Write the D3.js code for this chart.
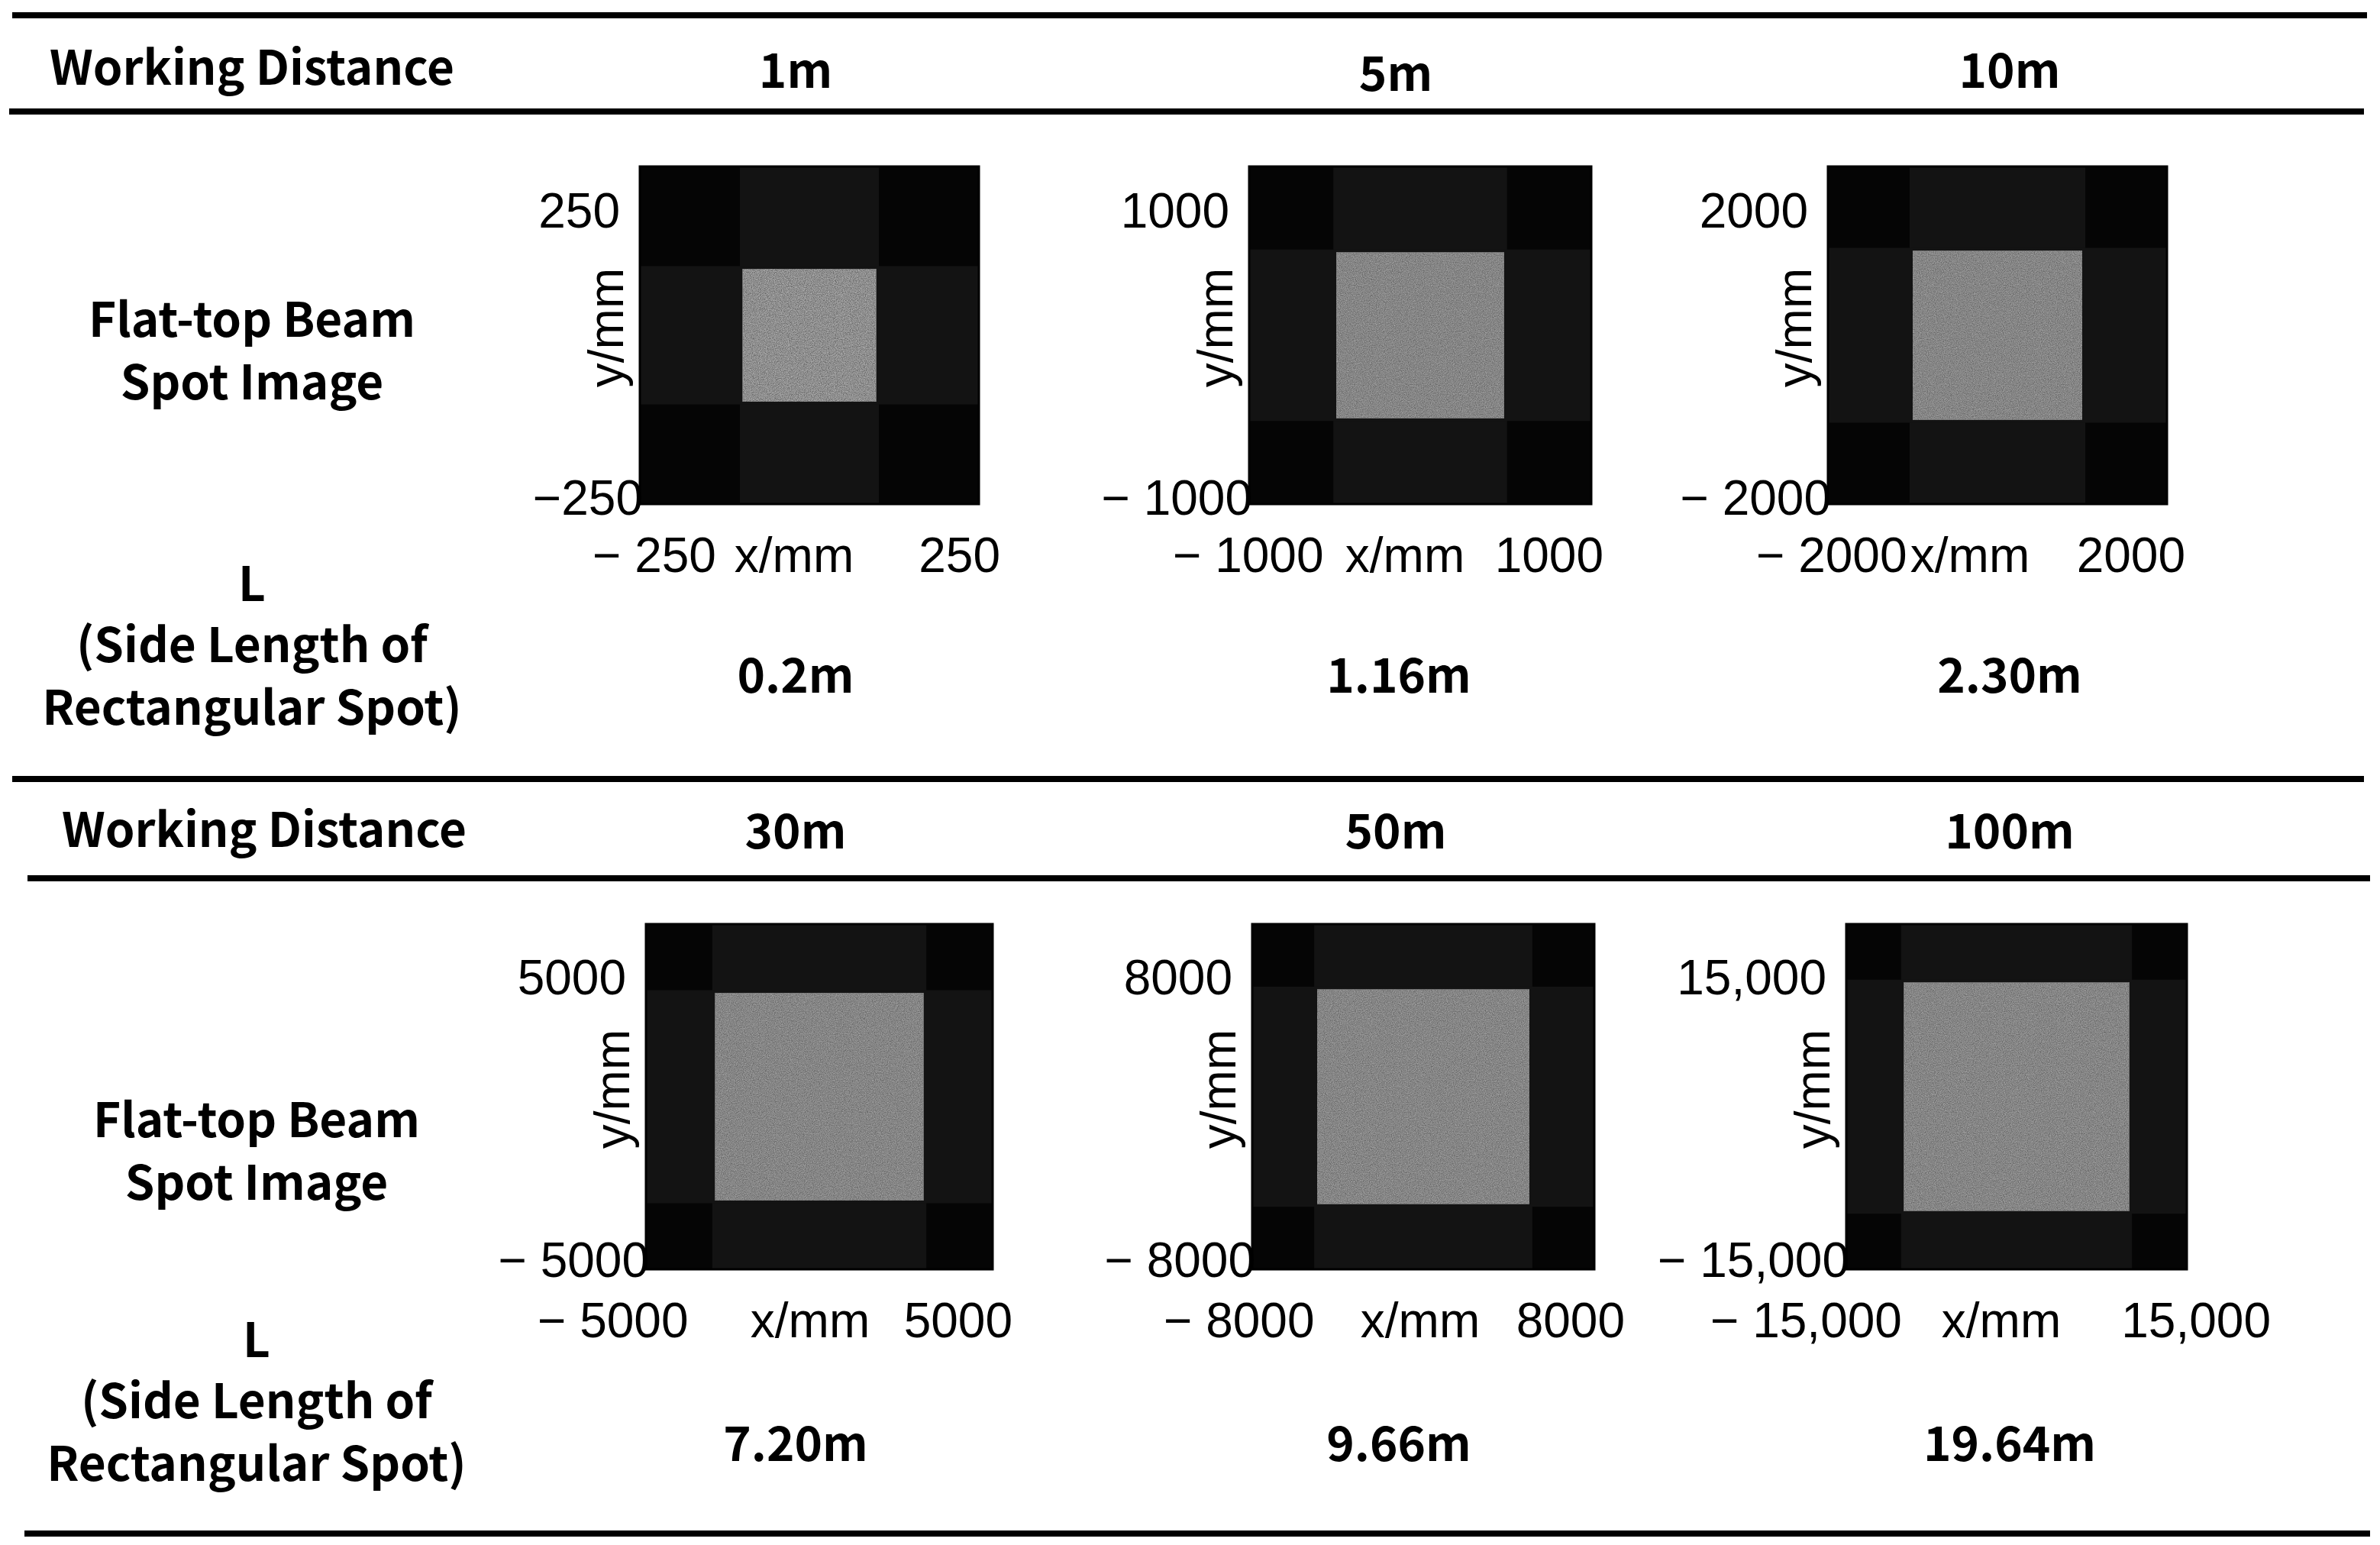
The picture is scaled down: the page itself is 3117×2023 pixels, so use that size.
<!DOCTYPE html>
<html><head><meta charset="utf-8">
<script src="https://cdn.jsdelivr.net/npm/d3@7"></script>
<style>body{margin:0;background:#fff}</style></head>
<body><svg id="c" width="3117" height="2023"></svg>
<script>
const distances = ["1m","5m","10m","30m","50m","100m"];
const axisMax = [250,1000,2000,5000,8000,15000];
const tickLabels = [["250","−250","− 250","250"],["1000","− 1000","− 1000","1000"],["2000","− 2000","− 2000","2000"],
  ["5000","− 5000","− 5000","5000"],["8000","− 8000","− 8000","8000"],["15,000","− 15,000","− 15,000","15,000"]];
const spotHalf = [98,490,1000,3000,4960,9900]; // half side of bright spot, mm
const sideLength = ["0.2m","1.16m","2.30m","7.20m","9.66m","19.64m"];

// layout (pixels)
const xTickLeftOff = [-62,-100,-94,-142,-116,-178];
const xTickRightOff = [28,16,24,26,40,110];
const xLabOff = [-20,-20,-36,-12,-4,-20];

const svg = d3.select("#c");
const defs = svg.append("defs");
const f = defs.append("filter").attr("id","noise").attr("x",0).attr("y",0).attr("width",1).attr("height",1);
f.append("feTurbulence").attr("type","fractalNoise").attr("baseFrequency",0.9).attr("numOctaves",2).attr("seed",3).attr("result","n");
f.append("feColorMatrix").attr("in","n").attr("type","matrix")
 .attr("values","0 0 0 0 0  0 0 0 0 0  0 0 0 0 0  0 0 0 -1.2 0.9").attr("result","a");
f.append("feComposite").attr("in","SourceGraphic").attr("in2","a").attr("operator","in").attr("result","s");
f.append("feFlood").attr("flood-color","#6a6a6a").attr("result","bg");
f.append("feMerge").selectAll("m").data(["bg","s"]).enter().append("feMergeNode").attr("in",d=>d);

const lab = "'Noto Sans CJK SC','Noto Sans',sans-serif";
const tick = "'Liberation Sans',Arial,sans-serif";
const LW = 600, LS = 62;

const rules = [[20,16,3100],[146,12,3096],[1020,16,3096],[1150,36,3104],[2008,32,3104]];
svg.selectAll(".rule").data(rules).enter().append("line")
  .attr("x1",d=>d[1]).attr("x2",d=>d[2]).attr("y1",d=>d[0]).attr("y2",d=>d[0])
  .attr("stroke","#000").attr("stroke-width",8);

const colX = [1042,1828,2632];
const rowsY = [{head:94,img:[218,660],lab:[424,506],L:[770,850,932],val:890, headX:330},
               {head:1092,img:[1210,1662],lab:[1472,1554],L:[1760,1840,1922],val:1896, headX:346}];
const imgBoxes = [[838,1282],[1636,2084],[2394,2838],[846,1300],[1640,2088],[2418,2864]];
const T = (x,y,t,o={})=>svg.append("text").attr("x",x).attr("y",y).attr("text-anchor",o.a||"middle")
    .attr("dominant-baseline","middle").attr("font-family",lab).attr("font-size",LS).attr("font-weight",LW).text(t);

rowsY.forEach((r,ri)=>{
  T(r.headX,r.head,"Working Distance");
  const lx = ri?336:330;
  ["Flat-top Beam","Spot Image"].forEach((t,i)=>T(lx,r.lab[i],t));
  ["L","(Side Length of","Rectangular Spot)"].forEach((t,i)=>T(lx,r.L[i],t));
  for(let c=0;c<3;c++){
    const k = ri*3+c;
    T(colX[c],r.head+(c==1&&ri==0?8:(ri?2:4)),distances[k]);
    T(colX[c]+(c==1?4:0),r.val,sideLength[k]);
    const [x0,x1] = imgBoxes[k], [y0,y1] = r.img;
    const M = axisMax[k];
    const xs = d3.scaleLinear().domain([-M,M]).range([x0,x1]);
    const ys = d3.scaleLinear().domain([-M,M]).range([y1,y0]);
    const g = svg.append("g");
    const h = spotHalf[k];
    g.append("rect").attr("x",x0).attr("y",y0).attr("width",x1-x0).attr("height",y1-y0).attr("fill","#050505");
    g.append("rect").attr("x",xs(-h)-4).attr("y",y0).attr("width",xs(h)-xs(-h)+8).attr("height",y1-y0).attr("fill","#131313");
    g.append("rect").attr("x",x0).attr("y",ys(h)-4).attr("width",x1-x0).attr("height",ys(-h)-ys(h)+8).attr("fill","#131313");
    g.append("rect").attr("x",xs(-h)).attr("y",ys(h)).attr("width",xs(h)-xs(-h)).attr("height",ys(-h)-ys(h))
      .attr("fill",k==0?"#c8c8c8":"#b4b4b4").attr("filter","url(#noise)");
    g.append("rect").attr("x",x0).attr("y",y0).attr("width",x1-x0).attr("height",y1-y0).attr("fill","none").attr("stroke","#000").attr("stroke-width",3);
    const tl = tickLabels[k];
    const fs = 64;
    const tt = (x,y,t,a)=>svg.append("text").attr("x",x).attr("y",y).attr("text-anchor",a).attr("font-family",tick).attr("font-size",fs).text(t);
    tt(x0-26,ys(M)+(ri?92:80),tl[0],"end");
    tt(x0+4,ys(-M)+(ri?10:14),tl[1],"end");
    tt(x0+xTickLeftOff[k],y1+89,tl[2],"start");
    tt(x1+xTickRightOff[k],y1+89,tl[3],"end");
    tt((x0+x1)/2+xLabOff[k],y1+89,"x/mm","middle");
    svg.append("text").attr("transform",`translate(${x0-22},${(y0+y1)/2-10}) rotate(-90)`).attr("text-anchor","middle")
      .attr("font-family",tick).attr("font-size",fs).text("y/mm");
  }
});
</script></body></html>
